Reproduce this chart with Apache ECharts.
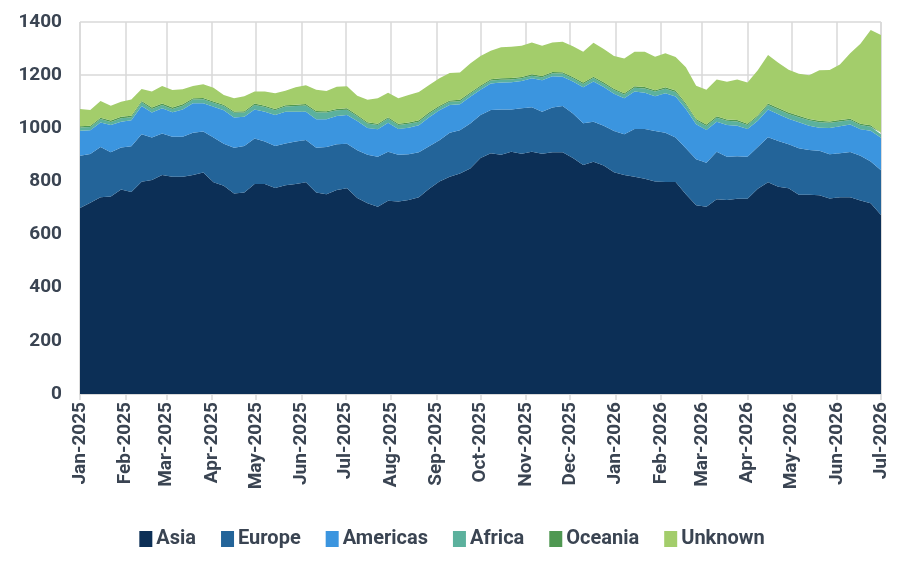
<!DOCTYPE html>
<html>
<head>
<meta charset="utf-8">
<script src="https://cdn.jsdelivr.net/npm/echarts@6/dist/echarts.min.js"></script>
<style>
  html, body { margin: 0; padding: 0; background: #fff; }
  #chart { width: 904px; height: 567px; }
</style>
</head>
<body>
<div id="chart"></div>
<script>
// weekly points, Jan 1 2025 -> Jul 1 2026
const startDate = '2025-01-01';
const endDate = '2026-07-01';
const monthNames = ['Jan', 'Feb', 'Mar', 'Apr', 'May', 'Jun', 'Jul', 'Aug', 'Sep', 'Oct', 'Nov', 'Dec'];
const seriesNames = ['Asia', 'Europe', 'Americas', 'Africa', 'Oceania', 'Unknown'];

const asia = [700, 720, 740, 743, 770, 760, 799, 805, 824, 818, 818, 824, 834, 797, 784, 755, 758, 790, 790, 775,
  786, 790, 797, 758, 752, 768, 774, 738, 718, 705, 727, 724, 730, 740, 772, 800, 818, 830, 849, 888,
  906, 900, 912, 904, 912, 904, 910, 910, 888, 862, 874, 860, 835, 824, 818, 810, 800, 798, 798, 752,
  710, 705, 733, 730, 735, 735, 772, 797, 780, 774, 750, 750, 748, 736, 740, 740, 728, 718, 674];
const europe = [197, 183, 190, 167, 158, 172, 179, 160, 156, 150, 150, 159, 154, 168, 158, 172, 175, 172, 160, 158,
  157, 160, 159, 169, 178, 172, 168, 179, 182, 188, 185, 176, 172, 170, 160, 155, 165, 163, 169, 162,
  163, 171, 159, 171, 167, 158, 168, 174, 168, 157, 151, 150, 155, 154, 179, 187, 190, 185, 167, 173,
  173, 165, 179, 163, 160, 158, 158, 169, 172, 166, 175, 168, 167, 166, 166, 171, 169, 157, 168];
const americas = [94, 90, 92, 102, 97, 98, 106, 94, 95, 92, 103, 111, 106, 116, 126, 114, 110, 109, 112, 117,
  119, 112, 106, 107, 104, 106, 108, 110, 101, 103, 109, 97, 100, 101, 110, 113, 105, 97, 101, 95,
  100, 101, 102, 103, 109, 119, 118, 110, 120, 135, 151, 145, 140, 135, 141, 137, 131, 149, 155, 148,
  132, 124, 113, 119, 115, 104, 98, 105, 101, 96, 98, 92, 87, 99, 102, 103, 99, 116, 122];
const africa = [12, 12, 13, 12, 13, 12, 14, 14, 13, 13, 14, 14, 15, 15, 16, 17, 16, 17, 18, 18,
  20, 22, 24, 26, 25, 22, 20, 18, 17, 16, 16, 15, 15, 14, 13, 12, 12, 12, 11, 11,
  11, 11, 11, 10, 10, 11, 11, 12, 12, 13, 13, 13, 14, 14, 15, 16, 17, 17, 17, 16,
  15, 15, 15, 16, 16, 15, 16, 17, 18, 18, 19, 20, 21, 20, 18, 17, 16, 15, 14];
const oceania = [5, 5, 5, 5, 5, 5, 5, 5, 5, 5, 5, 5, 5, 5, 5, 5, 5, 5, 5, 5,
  5, 5, 5, 5, 5, 5, 5, 5, 5, 5, 5, 5, 5, 5, 5, 5, 5, 5, 5, 5,
  5, 5, 5, 5, 5, 5, 5, 5, 5, 5, 5, 5, 5, 5, 5, 5, 5, 5, 5, 5,
  5, 5, 5, 5, 5, 5, 5, 5, 5, 5, 5, 5, 5, 5, 5, 5, 5, 5, 5];
const unknown = [65, 59, 63, 56, 57, 61, 45, 60, 66, 66, 57, 46, 52, 52, 36, 50, 57, 45, 53, 59,
  54, 65, 71, 80, 76, 83, 83, 72, 84, 96, 92, 96, 103, 107, 103, 103, 103, 103, 109, 111,
  107, 117, 118, 118, 120, 114, 111, 115, 116, 116, 128, 125, 123, 131, 130, 133, 126, 128, 126, 136,
  125, 131, 139, 142, 153, 155, 169, 183, 171, 161, 158, 165, 190, 193, 209, 246, 301, 359, 368];
const yTicks = [0, 200, 400, 600, 800, 1000, 1200, 1400];

const colors = ['#0c2f56', '#236499', '#3b95df', '#5cb19d', '#4f9852', '#a3cd6b'];
const values = [asia, europe, americas, africa, oceania, unknown];

// week dates
const dates = [];
const t0 = new Date(2025, 0, 1);
for (let i = 0; i < asia.length; i++) {
  dates.push(new Date(t0.getFullYear(), t0.getMonth(), t0.getDate() + i * 7));
}

const textColor = '#3a4452';
const gridColor = '#d9d9d9';
const font = 'Roboto, "Liberation Sans", sans-serif';

const chart = echarts.init(document.getElementById('chart'), null, { renderer: 'canvas' });

const option = {
  animation: false,
  color: colors,
  grid: { left: 80, right: 23, top: 22, bottom: 173, containLabel: false },
  legend: {
    data: seriesNames,
    top: 524,
    left: 'center',
    icon: 'rect',
    itemWidth: 13,
    itemHeight: 16,
    itemGap: 25,
    textStyle: { color: textColor, fontSize: 20, fontWeight: 'bold', fontFamily: font, padding: [0, 0, 0, -1] }
  },
  xAxis: {
    type: 'time',
    min: startDate,
    max: endDate,
    minInterval: 28 * 86400000,
    maxInterval: 31 * 86400000,
    axisLine: { lineStyle: { color: gridColor, width: 2 } },
    axisTick: { show: true, length: 6, lineStyle: { color: gridColor, width: 1.5 } },
    splitLine: { show: true, lineStyle: { color: gridColor, width: 1.5 } },
    axisLabel: {
      rotate: 90,
      margin: 8,
      color: textColor,
      fontSize: 19,
      fontWeight: 'bold',
      fontFamily: font,
      showMinLabel: true,
      showMaxLabel: true,
      hideOverlap: false,
      formatter: function (val) {
        const d = new Date(val);
        return monthNames[d.getMonth()] + '-' + d.getFullYear();
      }
    }
  },
  yAxis: {
    type: 'value',
    min: yTicks[0],
    max: yTicks[yTicks.length - 1],
    interval: 200,
    axisLine: { show: false },
    axisTick: { show: false },
    splitLine: { lineStyle: { color: gridColor, width: 1.5 } },
    axisLabel: {
      color: textColor,
      fontSize: 19,
      fontWeight: 'bold',
      fontFamily: font,
      margin: 18,
      formatter: function (v) { return String(v); }
    }
  },
  series: seriesNames.map((name, k) => ({
    name: name,
    type: 'line',
    stack: 'total',
    symbol: 'none',
    lineStyle: { width: 0 },
    areaStyle: { color: colors[k], opacity: 1 },
    itemStyle: { color: colors[k] },
    emphasis: { disabled: true },
    data: dates.map((d, i) => [d, values[k][i]])
  }))
};

chart.setOption(option);
</script>
</body>
</html>
